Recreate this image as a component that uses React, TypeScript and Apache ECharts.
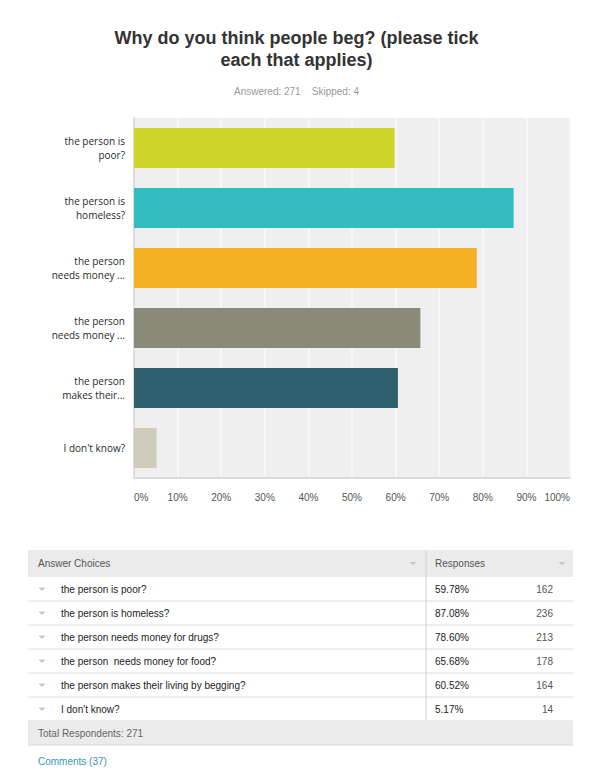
import React, { useEffect, useRef } from "react";
import * as echarts from "echarts";

const titleText = "Why do you think people beg? (please tick\neach that applies)";
const subtitleText = "Answered: 271    Skipped: 4";
const axisCategories = [
  "the person is\npoor?",
  "the person is\nhomeless?",
  "the person\nneeds money ...",
  "the person\nneeds money ...",
  "the person\nmakes their...",
  "I don't know?",
];
const choiceNames = [
  "the person is poor?",
  "the person is homeless?",
  "the person needs money for drugs?",
  "the person  needs money for food?",
  "the person makes their living by begging?",
  "I don't know?",
];
const percentValues = [59.78, 87.08, 78.6, 65.68, 60.52, 5.17];
const responseCounts = [162, 236, 213, 178, 164, 14];
const barColors = ["#cfd52a", "#33bdc0", "#f5af22", "#8a8a7a", "#2e5f6c", "#cecbbd"];
const headerLabels = ["Answer Choices", "Responses"];
const totalText = "Total Respondents: 271";
const commentsText = "Comments (37)";

const FONT = "Arial, 'Liberation Sans', sans-serif";

function txt(text: string, x: number, y: number, opts: any = {}) {
  return {
    type: "text",
    silent: true,
    style: {
      text,
      x,
      y,
      fill: opts.fill || "#333",
      font: `${opts.weight || "normal"} ${opts.size || 10}px ${FONT}`,
      align: opts.align || "left",
      verticalAlign: "middle",
      textAlign: opts.align || "left",
      textVerticalAlign: "middle",
    },
  };
}

function tri(cx: number, cy: number) {
  return {
    type: "polygon",
    silent: true,
    shape: { points: [[cx - 3.5, cy - 1.5], [cx + 3.5, cy - 1.5], [cx, cy + 2]] },
    style: { fill: "#c8c8c8" },
  };
}

function hline(x1: number, x2: number, y: number, color = "#dddddd") {
  return {
    type: "line",
    silent: true,
    shape: { x1, y1: y, x2, y2: y },
    style: { stroke: color, lineWidth: 1 },
  };
}

export default function App() {
  const ref = useRef<HTMLDivElement>(null);

  useEffect(() => {
    document.body.style.margin = "0";
    const chart = echarts.init(ref.current!, undefined, { renderer: "svg" });

    const tL = 28, tR = 573, div = 426;
    const headTop = 550, headBot = 577, rowH = 24;
    const graphics: any[] = [];
    graphics.push({
      type: "rect", silent: true,
      shape: { x: tL, y: headTop, width: tR - tL, height: headBot - headTop },
      style: { fill: "#ebebeb" },
    });
    graphics.push(txt(headerLabels[0], 38, (headTop + headBot) / 2, { fill: "#555" }));
    graphics.push(tri(413, (headTop + headBot) / 2));
    graphics.push(txt(headerLabels[1], 435, (headTop + headBot) / 2, { fill: "#555" }));
    graphics.push(tri(562, (headTop + headBot) / 2));
    choiceNames.forEach((name, i) => {
      const y0 = headBot + i * rowH;
      const cy = y0 + rowH / 2;
      graphics.push(tri(42, cy));
      graphics.push(txt(name, 61, cy, { fill: "#222" }));
      graphics.push(txt(percentValues[i].toFixed(2) + "%", 435, cy, { fill: "#222" }));
      graphics.push(txt(String(responseCounts[i]), 553, cy, { fill: "#555", align: "right" }));
      graphics.push(hline(tL, tR, y0 + rowH));
    });
    const footTop = headBot + choiceNames.length * rowH;
    graphics.push({
      type: "line", silent: true,
      shape: { x1: div, y1: headTop, x2: div, y2: footTop },
      style: { stroke: "#d2d2d2", lineWidth: 1 },
    });
    graphics.push({
      type: "rect", silent: true,
      shape: { x: tL, y: footTop, width: tR - tL, height: 24 },
      style: { fill: "#ebebeb" },
    });
    graphics.push(hline(tL, tR, footTop + 24, "#d8d8d8"));
    graphics.push(txt(totalText, 38, footTop + 12, { fill: "#666" }));
    graphics.push(txt(commentsText, 38, 761, { fill: "#3a95b0" }));

    chart.setOption({
      animation: false,
      backgroundColor: "#ffffff",
      title: {
        text: titleText,
        subtext: subtitleText,
        left: "center",
        top: 22,
        itemGap: 14,
        textStyle: {
          fontFamily: FONT,
          fontSize: 18,
          fontWeight: "bold",
          color: "#333",
          lineHeight: 22,
        },
        subtextStyle: {
          fontFamily: FONT,
          fontSize: 10,
          color: "#999",
          lineHeight: 12,
        },
      },
      grid: {
        left: 134,
        right: 23,
        top: 118,
        bottom: 298,
        show: true,
        backgroundColor: "#efefef",
        borderWidth: 0,
        containLabel: false,
      },
      xAxis: {
        type: "value",
        min: 0,
        max: 100,
        interval: 10,
        axisLine: { show: true, lineStyle: { color: "#dcdcdc", width: 2 } },
        axisTick: { show: false },
        splitLine: { show: true, lineStyle: { color: "#f7f7f7", width: 2 } },
        axisLabel: {
          formatter: "{value}%",
          color: "#555",
          fontFamily: FONT,
          fontSize: 10,
          margin: 14,
          alignMinLabel: "left",
          alignMaxLabel: "right",
        },
      },
      yAxis: {
        type: "category",
        inverse: true,
        data: axisCategories,
        axisLine: { show: true, lineStyle: { color: "#dedede", width: 2 } },
        axisTick: { show: false },
        splitLine: { show: false },
        axisLabel: {
          color: "#2a2a2a",
          fontFamily: "'Open Sans', sans-serif",
          fontSize: 10,
          lineHeight: 14,
          margin: 9,
          align: "right",
        },
      },
      series: [
        {
          type: "bar",
          data: percentValues.map((v, i) => ({
            value: v,
            itemStyle: { color: barColors[i] },
          })),
          barWidth: 40,
          silent: true,
        },
      ],
      graphic: graphics,
    });

    return () => chart.dispose();
  }, []);

  return <div ref={ref} style={{ width: 593, height: 776 }} />;
}
